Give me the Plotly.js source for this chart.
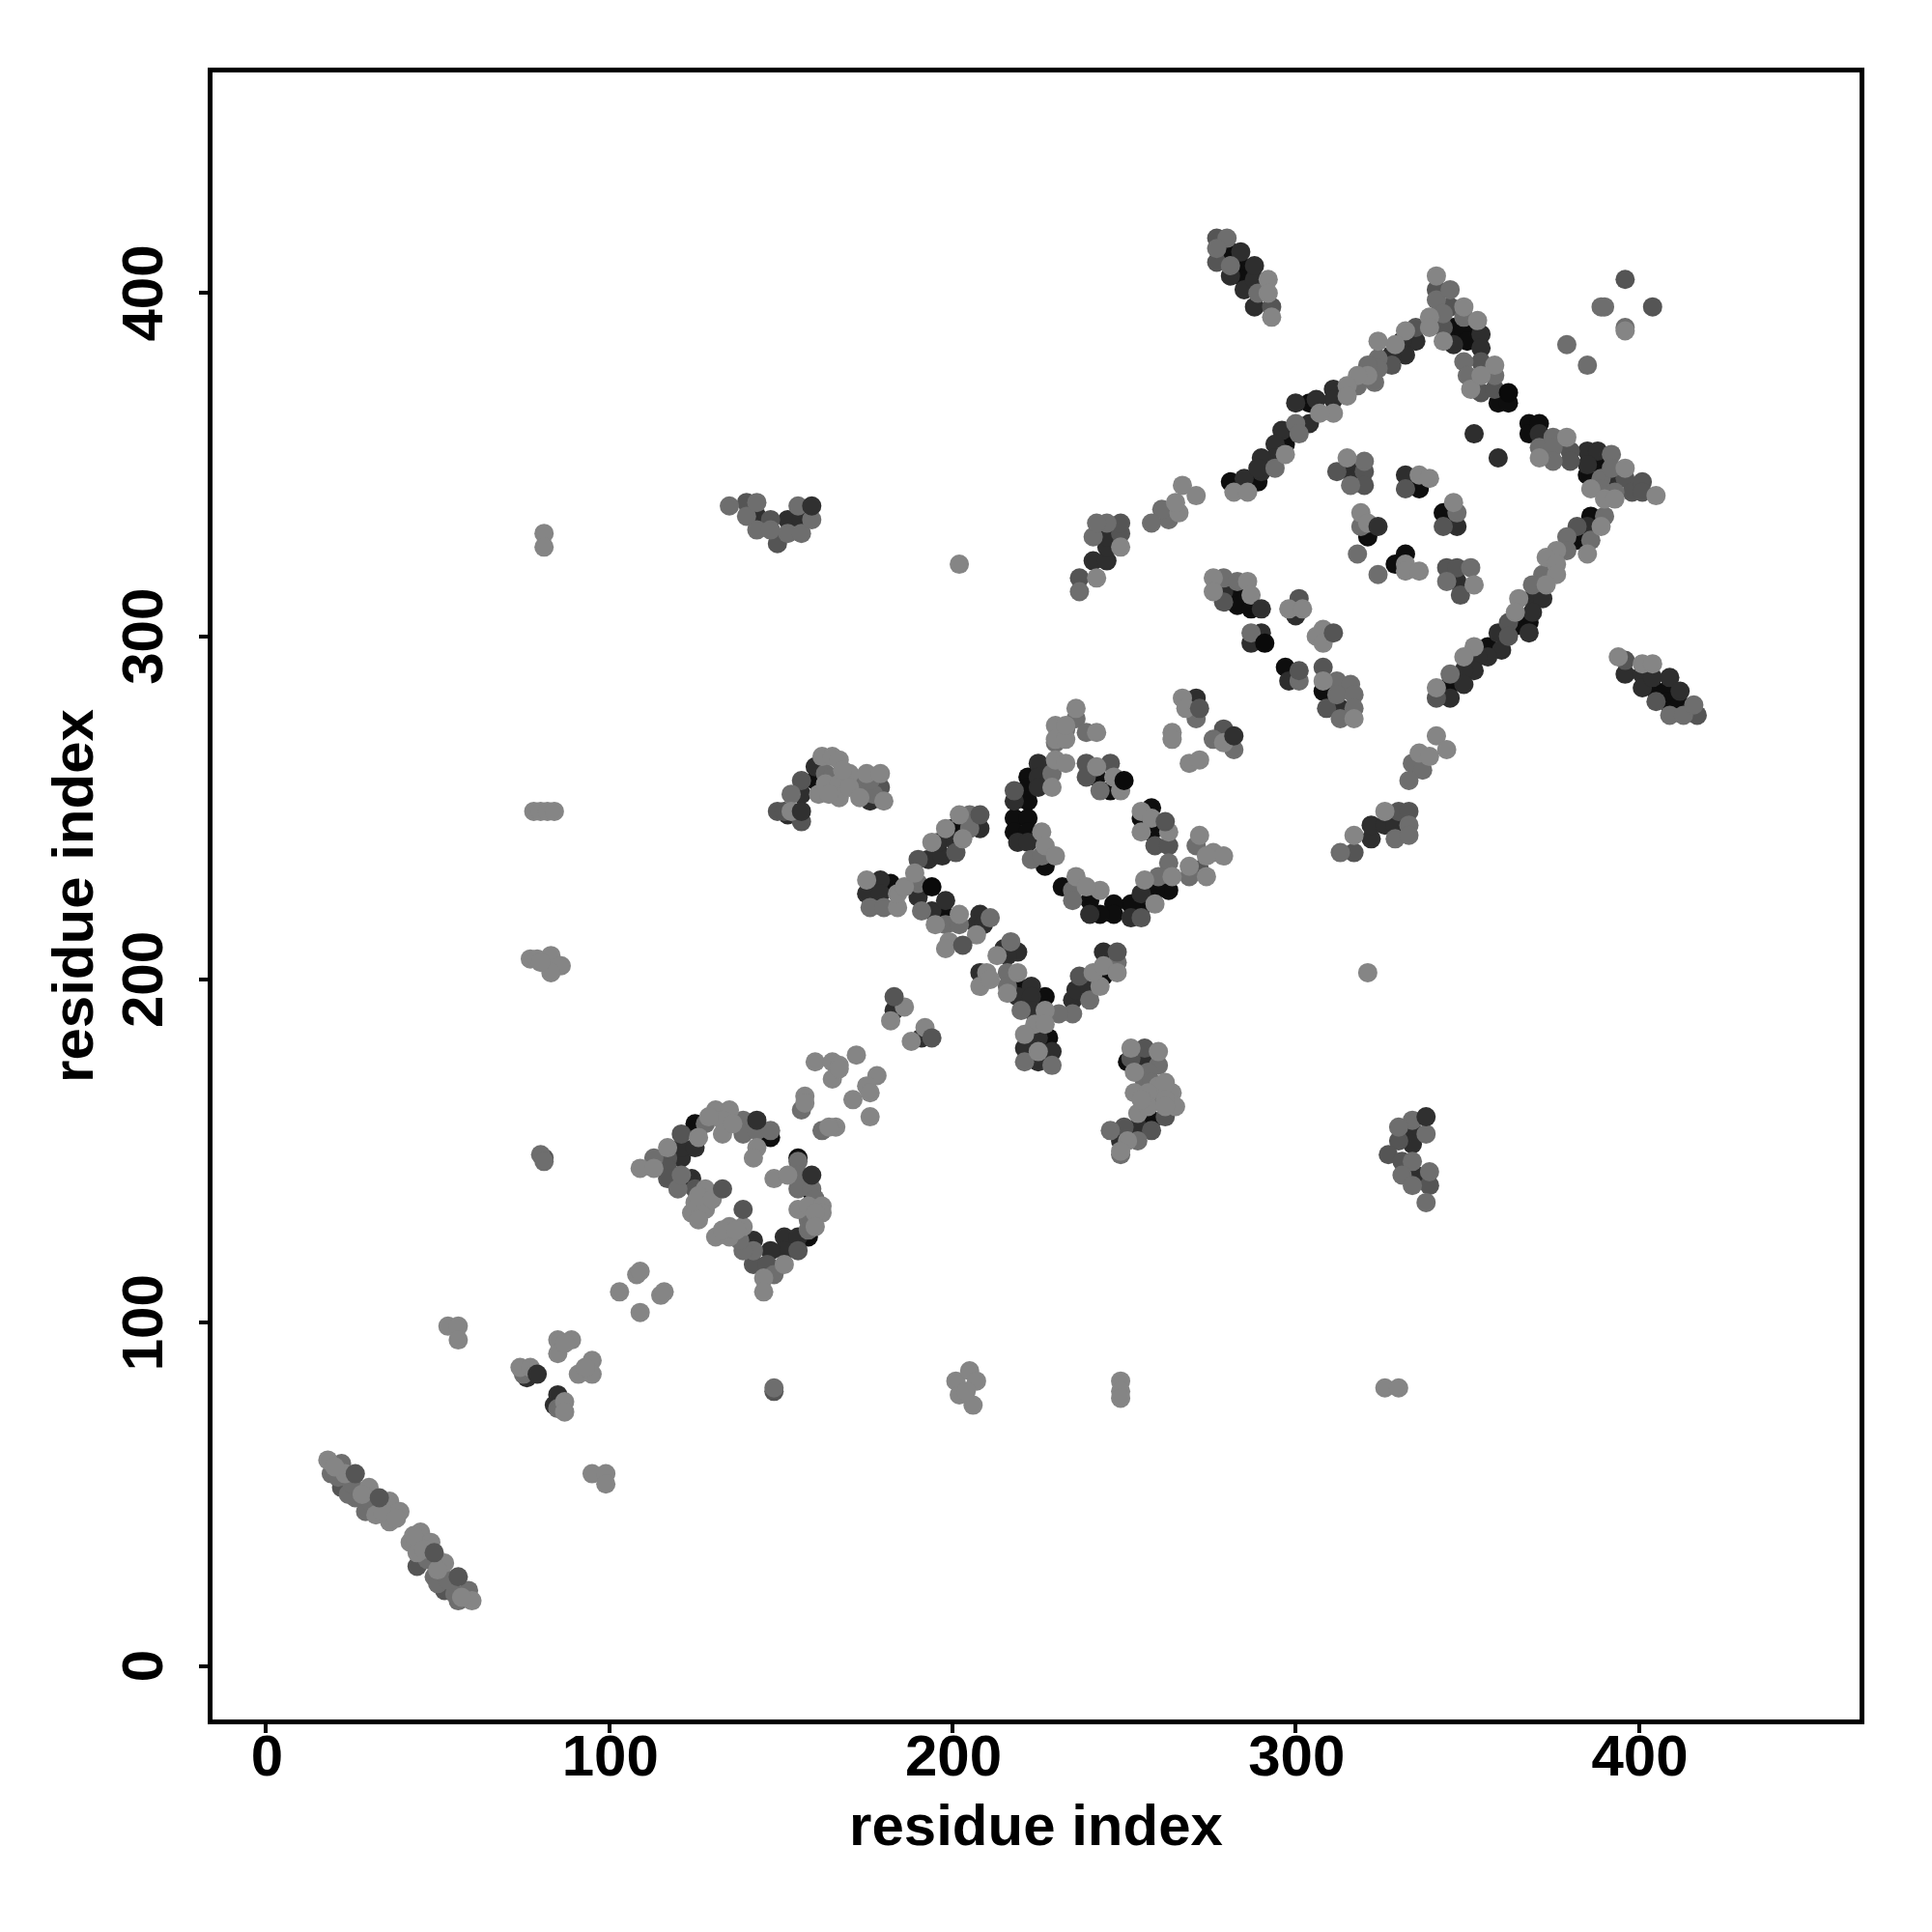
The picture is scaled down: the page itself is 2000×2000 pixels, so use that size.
<!DOCTYPE html>
<html><head><meta charset="utf-8">
<script src="https://cdn.plot.ly/plotly-3.0.1.min.js"></script>
<style>html,body{margin:0;padding:0;background:#fff}</style></head>
<body><div id="chart" style="width:2000px;height:2000px"></div>
<script>
// [residue i, residue j] pairs, grouped by grey level
const blackPts=[[125,158],[147,154],[155,148],[159,138],[121,150],[158,125],[182,228],[200,244],[197,220],[219,198],[227,195],[228,183],[244,201],[222,259],[222,256],[222,252],[218,247],[222,247],[218,243],[222,243],[227,233],[242,259],[246,255],[258,250],[255,247],[258,243],[263,226],[259,226],[256,222],[252,222],[247,222],[247,219],[240,223],[243,219],[232,227],[283,312],[283,309],[287,308],[297,291],[308,284],[160,258],[258,159],[251,176],[281,412],[284,408],[285,404],[404,285],[408,284],[408,281],[412,280],[346,390],[349,389],[350,386],[304,368],[297,356],[289,345],[359,368],[362,368],[368,362],[368,359],[371,362],[385,347],[388,350],[386,335],[382,328],[368,304],[364,303],[356,297],[345,286],[281,345],[321,329],[329,321],[332,324],[343,336],[336,343]];
const darkPts=[[76,84],[84,76],[85,77],[77,85],[85,79],[121,148],[121,151],[125,151],[124,142],[142,124],[151,125],[151,121],[147,121],[155,125],[183,191],[191,183],[179,229],[175,225],[179,225],[190,224],[194,220],[198,223],[193,235],[197,236],[196,240],[201,240],[208,244],[208,219],[207,216],[209,216],[219,208],[215,209],[216,207],[208,202],[223,198],[219,195],[223,195],[223,191],[225,183],[225,176],[229,179],[221,180],[235,194],[236,197],[240,197],[244,208],[218,252],[219,240],[222,240],[225,263],[225,259],[225,256],[255,225],[252,218],[240,219],[271,282],[279,313],[287,298],[298,287],[313,279],[300,306],[290,301],[322,241],[322,245],[326,245],[329,245],[241,322],[245,322],[245,326],[245,329],[152,248],[156,254],[160,262],[176,252],[175,256],[256,176],[254,157],[249,153],[143,335],[152,334],[156,334],[334,156],[334,152],[335,143],[284,412],[281,405],[285,401],[288,404],[288,396],[288,408],[396,289],[401,289],[401,285],[404,288],[409,288],[412,284],[346,385],[354,388],[354,384],[335,386],[331,386],[332,382],[328,382],[311,372],[311,369],[306,369],[300,368],[304,362],[296,360],[294,356],[294,352],[290,352],[290,348],[285,346],[289,349],[369,311],[372,311],[369,307],[371,359],[385,354],[388,354],[385,350],[392,346],[385,332],[359,301],[360,296],[356,294],[353,294],[352,290],[349,290],[349,286],[345,282],[352,359],[359,352],[316,348],[332,347],[347,332],[347,316]];
const dimPts=[[22,52],[44,29],[52,22],[81,148],[148,80],[117,148],[117,145],[117,142],[121,155],[125,139],[142,117],[146,117],[155,121],[190,235],[259,239],[263,239],[255,218],[272,232],[218,255],[239,263],[239,259],[246,263],[201,237],[237,201],[279,273],[279,310],[301,311],[308,291],[309,279],[317,237],[330,249],[333,249],[237,317],[249,330],[249,333],[149,249],[151,249],[156,246],[156,258],[179,256],[256,180],[252,177],[262,160],[258,156],[250,157],[140,339],[147,334],[149,327],[330,153],[327,149],[331,147],[339,140],[277,416],[277,409],[293,396],[396,293],[405,281],[417,277],[341,401],[345,396],[343,390],[335,390],[328,379],[354,380],[354,371],[358,372],[380,354],[380,351],[382,332],[396,346],[398,342],[401,345],[401,342],[362,304],[362,300],[341,282],[312,348],[320,348],[320,344],[332,343],[343,332],[344,320],[347,320],[348,312],[396,404],[404,396]];
const midPts=[[19,56],[22,59],[29,45],[26,49],[49,26],[56,19],[59,22],[24,50],[50,24],[21,55],[55,21],[47,31],[31,47],[53,25],[25,53],[80,149],[81,147],[148,81],[75,85],[85,75],[113,148],[120,139],[121,143],[128,158],[139,159],[139,155],[143,156],[147,156],[155,147],[155,143],[155,139],[159,139],[158,130],[158,127],[142,121],[148,114],[139,121],[138,124],[160,136],[156,162],[162,156],[176,221],[180,221],[190,228],[191,220],[198,216],[211,218],[217,211],[216,202],[216,198],[220,191],[235,190],[231,190],[240,194],[248,205],[221,176],[229,175],[223,235],[229,260],[226,236],[243,255],[271,239],[269,230],[263,234],[260,230],[235,226],[235,223],[202,216],[205,248],[205,244],[233,273],[236,276],[239,272],[230,269],[271,276],[276,270],[282,267],[279,317],[283,316],[287,301],[301,287],[312,287],[316,286],[312,283],[313,276],[317,283],[317,279],[313,237],[333,245],[329,241],[333,242],[237,313],[245,333],[241,329],[242,333],[334,263],[337,261],[333,258],[263,334],[261,337],[258,333],[153,254],[163,260],[165,259],[173,257],[177,254],[176,258],[260,175],[257,173],[261,164],[246,156],[254,153],[249,149],[256,170],[258,170],[258,165],[135,338],[140,335],[143,331],[147,331],[152,330],[155,338],[156,330],[159,334],[143,339],[334,159],[338,155],[330,157],[334,147],[331,143],[334,140],[339,144],[338,135],[280,416],[277,413],[281,408],[289,400],[409,277],[413,277],[416,280],[341,398],[349,393],[343,394],[345,401],[324,381],[324,378],[323,374],[321,379],[318,373],[300,362],[301,359],[294,349],[349,380],[350,376],[358,376],[371,355],[375,358],[375,355],[375,351],[392,353],[389,346],[389,343],[392,349],[393,342],[390,335],[386,328],[379,329],[379,325],[372,318],[369,315],[345,289],[320,351],[316,344],[319,332],[318,324],[324,318],[347,336],[351,320],[344,316],[389,396],[390,396],[396,390],[379,385],[385,379]];
const lightPts=[[18,60],[23,56],[30,52],[36,48],[39,45],[36,42],[32,44],[45,39],[42,36],[48,36],[52,30],[60,19],[44,33],[20,58],[28,50],[34,45],[38,43],[43,38],[46,34],[50,28],[57,20],[81,330],[81,326],[326,81],[330,81],[202,321],[321,202],[78,249],[80,249],[82,249],[84,249],[249,83],[249,80],[249,78],[77,206],[79,206],[83,207],[86,204],[83,202],[80,205],[201,83],[205,86],[207,83],[206,76],[202,79],[204,80],[53,99],[56,99],[56,95],[95,56],[99,56],[99,53],[85,95],[89,95],[85,91],[87,94],[95,89],[91,85],[95,85],[93,87],[74,87],[77,87],[87,77],[87,74],[108,114],[109,115],[103,109],[115,108],[116,109],[109,103],[109,145],[113,145],[117,151],[126,154],[128,139],[128,135],[124,132],[125,135],[128,133],[126,130],[126,137],[130,136],[131,162],[135,162],[133,159],[133,155],[129,160],[136,158],[143,151],[142,148],[148,142],[152,143],[155,133],[158,134],[162,134],[162,132],[160,132],[160,128],[151,117],[145,113],[145,109],[139,128],[135,128],[131,125],[135,125],[133,127],[137,127],[160,176],[172,178],[165,176],[167,175],[165,171],[167,174],[157,166],[157,164],[178,172],[175,169],[171,165],[176,167],[176,160],[166,157],[164,157],[186,192],[182,188],[192,186],[188,182],[175,229],[184,221],[184,225],[186,227],[189,231],[195,216],[194,240],[198,244],[203,241],[202,248],[202,219],[207,213],[199,211],[198,209],[213,207],[210,202],[208,198],[211,200],[219,202],[216,196],[227,191],[224,187],[227,187],[243,198],[241,202],[244,204],[248,202],[221,184],[225,179],[230,264],[229,256],[233,263],[226,243],[227,239],[230,236],[242,262],[247,259],[249,255],[255,249],[258,247],[255,243],[263,243],[272,242],[276,237],[279,236],[269,233],[274,236],[274,230],[264,230],[256,229],[259,222],[243,226],[236,230],[239,227],[230,274],[230,270],[233,270],[236,279],[242,272],[233,274],[267,282],[268,279],[264,272],[264,270],[279,269],[269,263],[272,264],[276,317],[276,313],[286,316],[287,312],[298,308],[302,308],[308,302],[306,300],[308,298],[308,287],[317,276],[317,242],[326,249],[242,317],[249,326],[341,271],[344,267],[336,266],[339,265],[271,341],[267,344],[266,336],[265,339],[153,249],[161,254],[162,265],[165,265],[167,264],[163,257],[167,257],[167,253],[170,260],[170,256],[173,253],[175,260],[179,260],[180,252],[164,254],[168,261],[252,180],[260,179],[253,173],[260,169],[253,167],[257,167],[264,167],[265,163],[254,161],[257,163],[251,153],[249,150],[262,170],[262,165],[255,165],[262,163],[292,404],[292,400],[293,393],[394,294],[401,292],[404,292],[341,405],[349,396],[353,392],[339,393],[339,390],[343,386],[332,389],[329,385],[324,386],[321,376],[318,376],[315,373],[315,370],[311,365],[307,365],[297,353],[358,379],[351,372],[354,376],[371,352],[379,358],[396,349],[386,343],[405,341],[390,340],[393,340],[389,332],[385,324],[376,325],[373,323],[376,321],[376,318],[373,315],[365,311],[364,307],[352,297],[349,294],[341,285],[282,342],[286,342],[315,352],[336,347],[339,346],[319,336],[321,333],[332,321],[332,319],[336,319],[346,339],[352,315],[396,389]];
const topDimPts=[[26,56],[33,49],[49,33],[56,26],[133,139],[139,133],[183,195],[194,183],[208,248],[203,210],[262,246],[248,208],[272,279],[311,301],[301,290]];
const topDarkPts=[[79,85],[143,159],[159,143],[282,271],[290,308],[156,249],[159,338],[338,160],[368,301],[324,332]];
const topBlackPts=[[194,227],[250,258],[291,298],[362,371]];
const layers=[[blackPts,'#0e0e0e'],[darkPts,'#2e2e2e'],[dimPts,'#555555'],[midPts,'#6e6e6e'],[lightPts,'#858585'],[topDimPts,'#555555'],[topDarkPts,'#303030'],[topBlackPts,'#0a0a0a']];
const tickValues=[0,100,200,300,400];
const axisLabel='residue index';
const tf={family:'Liberation Sans',size:60,color:'#000',weight:700};
const ax=(angle,standoff,labelShift,along)=>({range:[-15.6,464.3],showgrid:false,zeroline:false,showline:true,mirror:true,linewidth:5,linecolor:'#000',ticks:'outside',ticklen:9,tickwidth:4,tickcolor:'#000',tickmode:'array',tickvals:tickValues,ticktext:tickValues.map(String),tickfont:tf,tickangle:angle,ticklabelstandoff:labelShift,ticklabelshift:along,title:{text:axisLabel,font:tf,standoff:standoff}});
Plotly.newPlot('chart',layers.map(([p,c])=>({type:'scatter',mode:'markers',x:p.map(d=>d[0]),y:p.map(d=>d[1]),marker:{size:20,color:c,line:{width:0}},hoverinfo:'skip'})),{width:2000,height:2000,showlegend:false,paper_bgcolor:'#fff',plot_bgcolor:'#fff',margin:{l:220,r:75,t:75,b:220,autoexpand:false},xaxis:ax(0,19,-28,1),yaxis:ax(-90,0,14,9)},{displayModeBar:false});
</script>
</body></html>
